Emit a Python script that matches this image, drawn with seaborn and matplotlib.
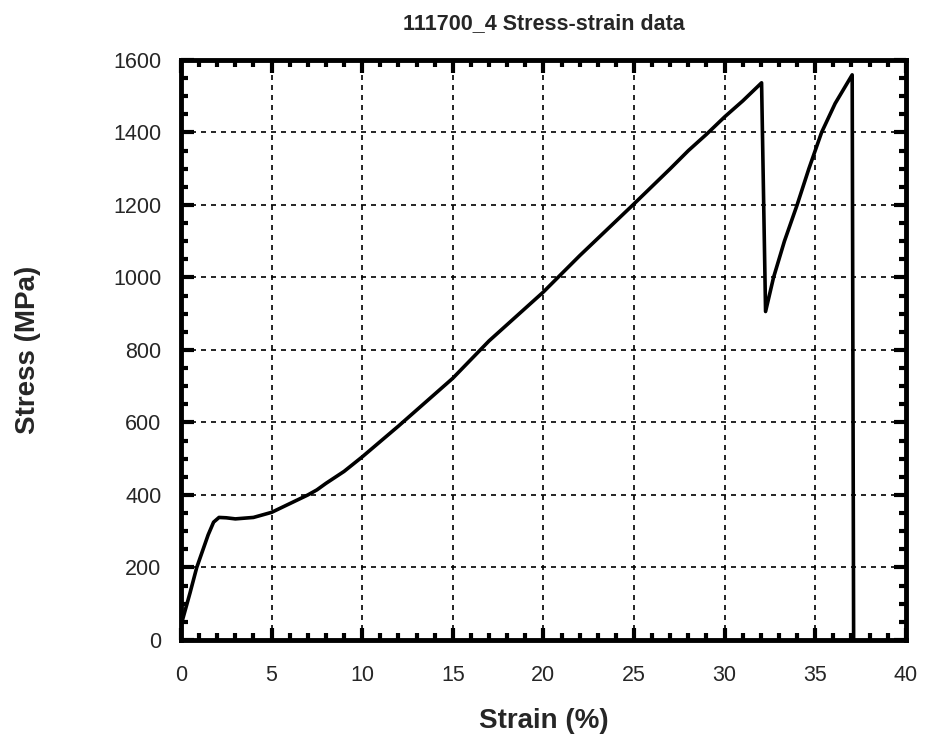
import numpy as np
import pandas as pd
import matplotlib
matplotlib.use("Agg")
import matplotlib.pyplot as plt
import seaborn as sns
from matplotlib.ticker import MultipleLocator

sns.set_style("ticks")
plt.rcParams['font.family'] = ['Liberation Sans', 'DejaVu Sans']

# Stress-strain curve
strain = [0.0, 0.5, 0.87, 1.5, 1.8, 2.1, 2.5, 3.0, 4.0, 5.0, 6.0, 7.0, 7.5, 8.0,
          9.0, 10.0, 12.0, 15.0, 17.0, 20.0, 22.0, 25.0, 27.0, 28.0, 29.0, 30.0,
          31.0, 32.04,
          32.26, 32.7, 33.3, 34.0, 34.65, 35.35, 36.1, 37.04, 37.12]
stress = [40, 130, 200, 290, 325, 338, 337, 334, 338, 352, 376, 400, 414, 432,
          465, 505, 590, 722, 825, 960, 1060, 1203, 1300, 1350, 1395, 1443,
          1487, 1537,
          906, 1000, 1100, 1200, 1300, 1400, 1480, 1559, 0]

df = pd.DataFrame({"Strain (%)": strain, "Stress (MPa)": stress})

fig = plt.figure(figsize=(9.3, 7.45), dpi=100)
ax = fig.add_axes([0.1946, 0.141, 0.7794, 0.7785])

sns.lineplot(data=df, x="Strain (%)", y="Stress (MPa)", sort=False,
             color="black", linewidth=2.6, ax=ax)

ax.set_xlim(0, 40)
ax.set_ylim(0, 1600)
ax.xaxis.set_major_locator(MultipleLocator(5))
ax.xaxis.set_minor_locator(MultipleLocator(1))
ax.yaxis.set_major_locator(MultipleLocator(200))
ax.yaxis.set_minor_locator(MultipleLocator(50))
ax.tick_params(which="both", direction="in", top=True, right=True,
               color="black", labelsize=15.5)
ax.tick_params(which="major", length=9, width=3)
ax.tick_params(which="minor", length=5, width=3)
ax.tick_params(axis="x", pad=18)
ax.tick_params(axis="y", pad=14)
ax.grid(True, which="major", color="black", linestyle=(0, (3, 3)), linewidth=1.2)
for s in ax.spines.values():
    s.set_linewidth(3.5)
    s.set_color("black")

ax.set_title("111700_4 Stress-strain data", fontsize=15.5, fontweight="bold", pad=22)
ax.set_xlabel("Strain (%)", fontsize=20, fontweight="bold", labelpad=16)
ax.set_ylabel("Stress (MPa)", fontsize=20, fontweight="bold", labelpad=52)

fig.savefig("out.png", dpi=100)
